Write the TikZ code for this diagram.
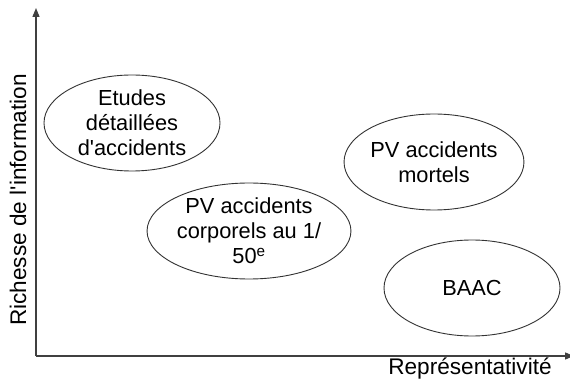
\documentclass[tikz,border=0pt]{standalone}
\usepackage{fontspec}
\setmainfont{Liberation Sans}[Ligatures=TeXOff]
\usetikzlibrary{shapes.geometric,arrows.meta}
\begin{document}
\begin{tikzpicture}[x=1pt,y=-1pt,
  blob/.style={ellipse,draw=black!80,line width=0.9pt,minimum width=176pt,minimum height=96pt,inner sep=0pt,align=center,font=\fontsize{21.8}{25}\selectfont},
  axis/.style={draw=black!75,line width=1.3pt},
  lbl/.style={font=\fontsize{22.6}{25}\selectfont,inner sep=0pt}]
\useasboundingbox[fill=white] (0,0) rectangle (570,379);
\coordinate (o) at (36,356);
\coordinate (top) at (36,8);
\coordinate (right) at (574,356);
\draw[axis,-{Triangle[length=9pt,width=7pt]}] (o) -- (top);
\draw[axis,-{Triangle[length=9pt,width=7pt]}] (o) -- (right);
\node[blob] (etudes) at (132,123) {Etudes\\détaillées\\d'accidents};
\node[blob] (corp) at (249,231) {PV accidents\\corporels au 1/\\50\textsuperscript{e}};
\node[blob] (mort) at (434,162) {PV accidents\\mortels};
\node[blob] (baac) at (472,288) {BAAC};
\node[lbl,rotate=90] (yl) at (18,200) {Richesse de l'information};
\node[lbl,anchor=base] (xl) at (470,374) {Représentativité};
\end{tikzpicture}
\end{document}
